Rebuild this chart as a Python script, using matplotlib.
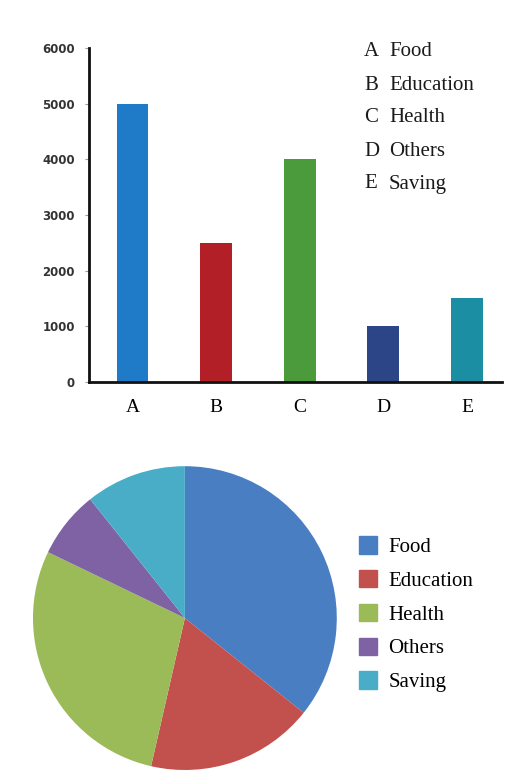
import matplotlib.pyplot as plt
from matplotlib.patches import Patch

cats = ['A', 'B', 'C', 'D', 'E']
names = ['Food', 'Education', 'Health', 'Others', 'Saving']
values = [5000, 2500, 4000, 1000, 1500]
bar_colors = ['#1f7bc8', '#b21f26', '#4b9a3c', '#2c4586', '#1b8ea3']
pie_colors = ['#4a7ec3', '#c2504d', '#9bbb59', '#7f62a3', '#49adc8']
yticks = [0, 1000, 2000, 3000, 4000, 5000, 6000]

plt.rcParams['font.family'] = ['Liberation Serif', 'DejaVu Serif']
fig = plt.figure(figsize=(5.15, 7.81), dpi=100)

# bar chart
ax = fig.add_axes([0.1728, 0.5109, 0.802, 0.4276])
x = range(len(cats))
ax.bar(x, values, width=0.38, color=bar_colors)
ax.set_xlim(-0.52, 4.42)
ax.set_ylim(0, 6000)
ax.set_yticks(yticks)
ax.set_yticklabels([str(v) for v in yticks], family='DejaVu Sans',
                   fontsize=8.5, fontweight='bold', color='#333333')
ax.set_xticks(list(x))
ax.set_xticklabels(cats, fontsize=14)
ax.tick_params(axis='x', length=0, pad=12)
ax.tick_params(axis='y', length=3, width=0.8, color='#999999', pad=7)
for s in ['top', 'right']:
    ax.spines[s].set_visible(False)
for s in ['left', 'bottom']:
    ax.spines[s].set_linewidth(2)
    ax.spines[s].set_color('#111111')

# letter key
for i, (c, n) in enumerate(zip(cats, names)):
    yy = 1 - (52 + i * 33) / 781
    fig.text(364 / 515, yy, c, fontsize=15, va='center', color='#1a1a1a')
    fig.text(389 / 515, yy, n, fontsize=15, va='center', color='#1a1a1a')

# pie chart
ax2 = fig.add_axes([0.064, 0.0141, 0.590, 0.389])
wedges, _ = ax2.pie(values, colors=pie_colors, startangle=90, counterclock=False,
                    radius=1.0)
ax2.set_xlim(-1, 1)
ax2.set_ylim(-1, 1)
handles = [Patch(color=c) for c in pie_colors]
fig.legend(handles, names, loc='upper left', bbox_to_anchor=(351 / 515, 1 - 528 / 781),
           frameon=False, fontsize=15, handlelength=0.85, handleheight=0.9,
           labelspacing=0.62, handletextpad=0.55, borderaxespad=0)

fig.savefig('out.png', dpi=100)
